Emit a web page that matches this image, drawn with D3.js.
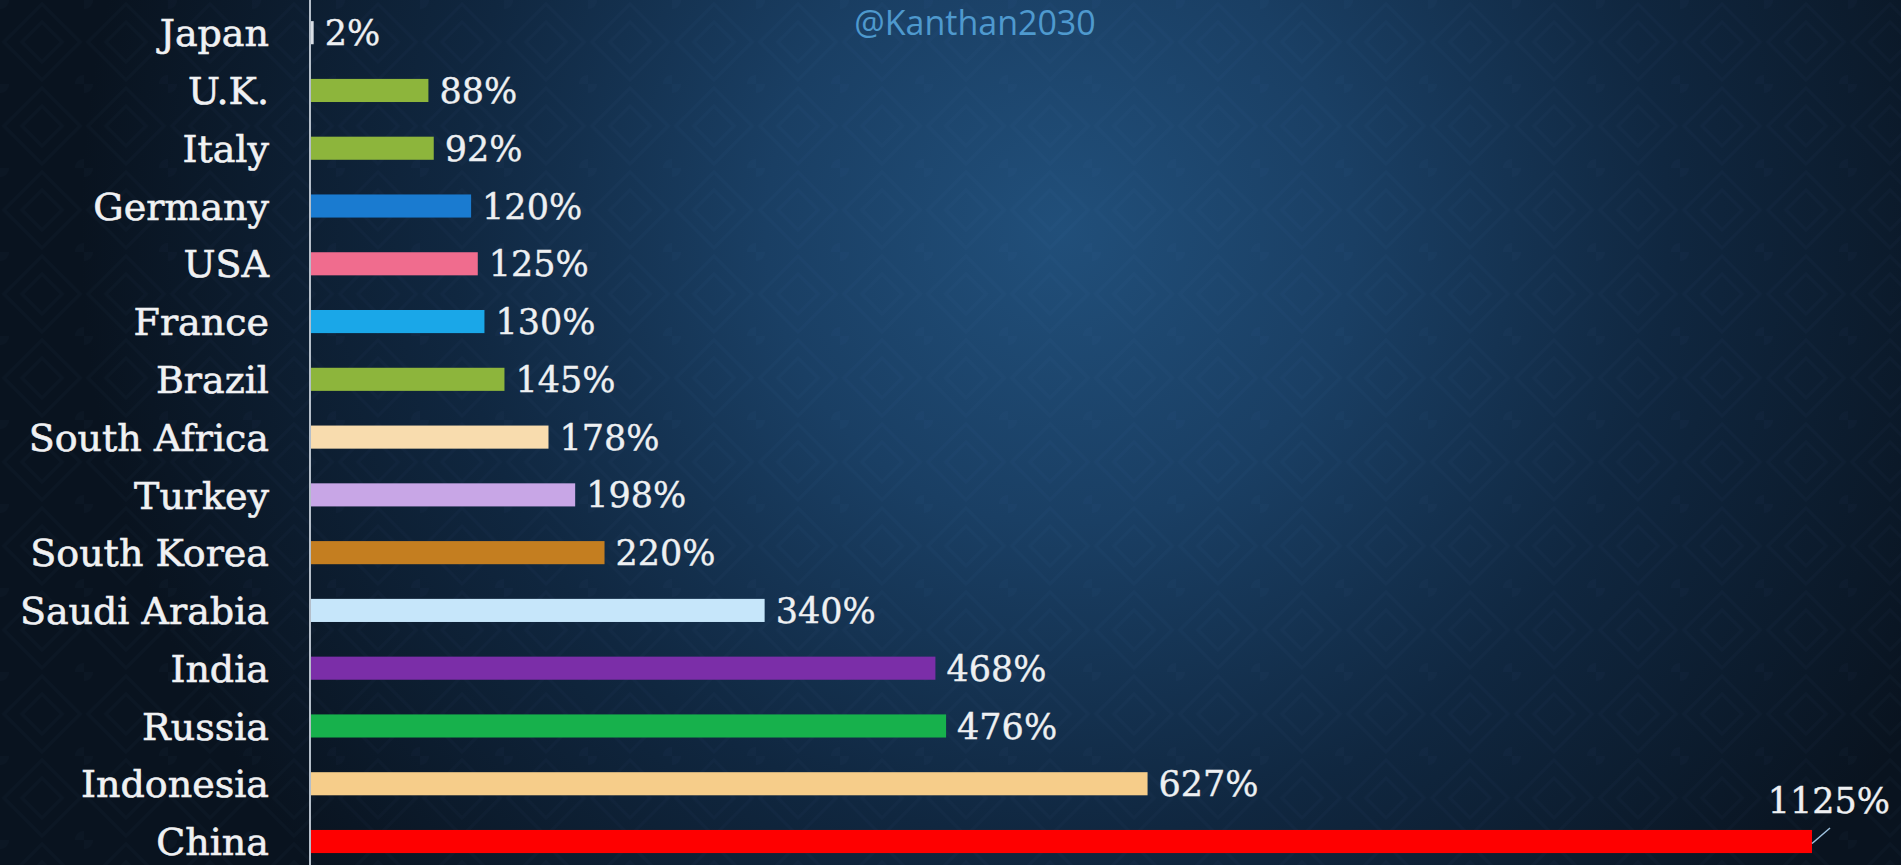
<!DOCTYPE html>
<html>
<head>
<meta charset="utf-8">
<script src="https://cdn.jsdelivr.net/npm/d3@7"></script>
<style>
  html, body { margin:0; padding:0; background:#0b1626; overflow:hidden; }
  svg { display:block; }
</style>
</head>
<body>
<div id="chart"></div>
<script>
(function(d3) {
// data
var countries = ['Japan', 'U.K.', 'Italy', 'Germany', 'USA', 'France', 'Brazil',
      'South Africa', 'Turkey', 'South Korea', 'Saudi Arabia', 'India', 'Russia',
      'Indonesia', 'China'],
    values = [2, 88, 92, 120, 125, 130, 145, 178, 198, 220, 340, 468, 476, 627, 1125],
    barColors = ['#d9dee5', '#8db53c', '#8db53c', '#1a7bd0', '#f06c8e', '#1aa7e8', '#8db53c',
      '#f8dcae', '#c8a6e6', '#c47e20', '#c6e6fa', '#7b2ea8', '#17b14c', '#f6cd8a', '#fe0000'],
    watermark = '@Kanthan2030';

var W = 1901, H = 865,
    axisX = 311,
    rows = countries.map(function(c, i) {
      return { name: c, value: values[i], color: barColors[i] };
    });

var svg = d3.select('#chart').append('svg')
    .attr('width', W)
    .attr('height', H);

// background: dark navy with a soft blue glow, plus a faint diamond pattern
var defs = svg.append('defs');
var glow = defs.append('radialGradient')
    .attr('id', 'bg')
    .attr('gradientUnits', 'userSpaceOnUse')
    .attr('cx', 1060).attr('cy', 230).attr('r', 980);
glow.append('stop').attr('offset', '0').attr('stop-color', '#214f7a');
glow.append('stop').attr('offset', '0.3').attr('stop-color', '#1a3f64');
glow.append('stop').attr('offset', '0.62').attr('stop-color', '#102740');
glow.append('stop').attr('offset', '1').attr('stop-color', '#09131f');

var pat = defs.append('pattern')
    .attr('id', 'damask')
    .attr('patternUnits', 'userSpaceOnUse')
    .attr('width', 84).attr('height', 84);
pat.append('path')
    .attr('d', 'M42,4 L80,42 L42,80 L4,42 Z M42,22 L62,42 L42,62 L22,42 Z')
    .attr('fill', 'none')
    .attr('stroke', '#7fb0e0')
    .attr('stroke-width', 3)
    .attr('opacity', 0.025);
pat.append('circle')
    .attr('cx', 0).attr('cy', 0).attr('r', 9)
    .attr('fill', '#7fb0e0').attr('opacity', 0.025);
pat.append('circle')
    .attr('cx', 84).attr('cy', 84).attr('r', 9)
    .attr('fill', '#7fb0e0').attr('opacity', 0.025);

svg.append('rect').attr('width', W).attr('height', H).attr('fill', 'url(#bg)');
svg.append('rect').attr('width', W).attr('height', H).attr('fill', 'url(#damask)');

// scales
var x = d3.scaleLinear()
    .domain([0, d3.max(values)])
    .range([axisX, 1812]);

var y = d3.scaleBand()
    .domain(countries)
    .range([3.8, 870.4])
    .paddingInner(0.6)
    .paddingOuter(0.3);

// watermark
svg.append('text')
    .attr('x', 975)
    .attr('y', 35)
    .attr('text-anchor', 'middle')
    .attr('font-family', '"Open Sans", sans-serif')
    .attr('font-size', 34)
    .attr('fill', '#58a9e0')
    .attr('opacity', 0.85)
    .text(watermark);

// bars
svg.append('g')
  .selectAll('rect')
  .data(rows)
  .enter().append('rect')
    .attr('x', x(0))
    .attr('y', function(d) { return y(d.name); })
    .attr('width', function(d) { return x(d.value) - x(0); })
    .attr('height', y.bandwidth())
    .attr('fill', function(d) { return d.color; });

// vertical axis line
svg.append('line')
    .attr('x1', axisX - 1).attr('x2', axisX - 1)
    .attr('y1', 0).attr('y2', H)
    .attr('stroke', '#b4bec9')
    .attr('stroke-width', 2);

// category labels
svg.append('g')
  .selectAll('text')
  .data(rows)
  .enter().append('text')
    .attr('x', 269)
    .attr('y', function(d) { return y(d.name) + y.bandwidth() / 2; })
    .attr('dy', '0.36em')
    .attr('text-anchor', 'end')
    .attr('font-family', '"DejaVu Serif", serif')
    .attr('font-size', 38)
    .attr('fill', '#f0f1f3')
    .attr('stroke', '#f0f1f3')
    .attr('stroke-width', 0.6)
    .text(function(d) { return d.name; });

// value labels (the longest bar gets its label above, with a small leader)
var maxV = d3.max(values);
var vals = svg.append('g');
vals.selectAll('text')
  .data(rows)
  .enter().append('text')
    .attr('x', function(d) { return d.value === maxV ? W - 11 : x(d.value) + 11; })
    .attr('y', function(d) {
      var c = y(d.name) + y.bandwidth() / 2;
      return d.value === maxV ? c - 41 : c;
    })
    .attr('dy', '0.36em')
    .attr('text-anchor', function(d) { return d.value === maxV ? 'end' : 'start'; })
    .attr('font-family', '"DejaVu Serif", serif')
    .attr('font-size', 35)
    .attr('fill', '#eef0f2')
    .attr('stroke', '#eef0f2')
    .attr('stroke-width', 0.4)
    .text(function(d) { return d.value + '%'; });

vals.append('line')
    .attr('x1', x(maxV))
    .attr('y1', y('China') + y.bandwidth() / 2 + 2)
    .attr('x2', x(maxV) + 18)
    .attr('y2', y('China') - 2)
    .attr('stroke', '#9fc3e0')
    .attr('stroke-width', 1.5);
// end of chart
})(d3);
</script>
</body>
</html>
